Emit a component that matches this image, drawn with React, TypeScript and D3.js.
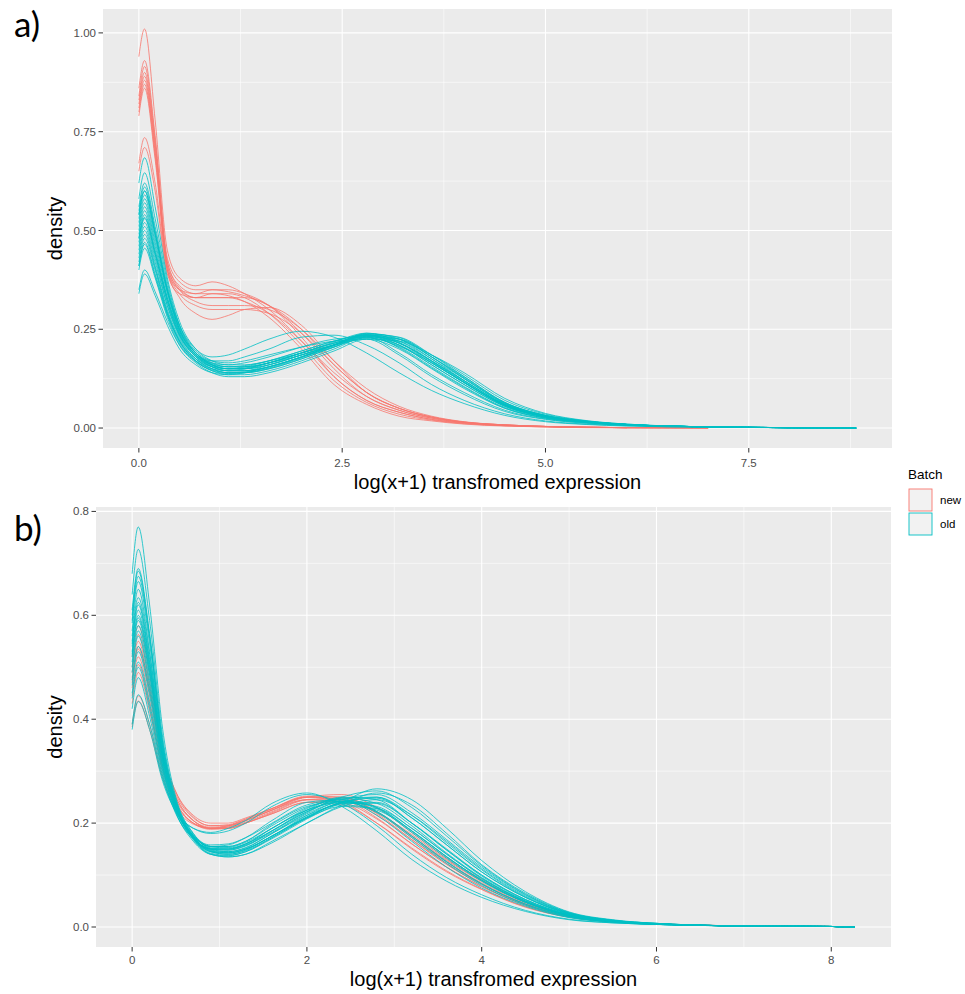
import React from "react";
import * as d3 from "d3";

// ---------- DATA ----------
// Panel a) x grid (log(x+1) transformed expression)
const GRID_A = [0, 0.07, 0.2, 0.35, 0.5, 0.7, 0.9, 1.1, 1.3, 1.6, 2.0, 2.4, 2.8, 3.2, 3.6, 4.0, 4.5, 5.0, 5.5, 6.0, 7.0, 8.0, 8.82];
// density values, batch "new"
const NEW_A = [
  [0.94, 1.01, 0.78, 0.45, 0.38, 0.36, 0.37, 0.36, 0.34, 0.30, 0.22, 0.13, 0.07, 0.04, 0.022, 0.013, 0.007, 0.004, 0.002, 0.001, 0.0005],
  [0.86, 0.93, 0.74, 0.43, 0.37, 0.35, 0.35, 0.345, 0.335, 0.31, 0.24, 0.15, 0.08, 0.045, 0.025, 0.014, 0.007, 0.004, 0.002, 0.001, 0.0005],
  [0.84, 0.915, 0.73, 0.42, 0.36, 0.34, 0.34, 0.335, 0.32, 0.28, 0.20, 0.11, 0.06, 0.03, 0.018, 0.01, 0.005, 0.003, 0.001, 0.0008],
  [0.83, 0.90, 0.72, 0.42, 0.355, 0.33, 0.33, 0.33, 0.32, 0.29, 0.22, 0.14, 0.08, 0.045, 0.025, 0.014, 0.007, 0.004, 0.002, 0.001, 0.0005],
  [0.81, 0.88, 0.70, 0.41, 0.35, 0.32, 0.31, 0.31, 0.31, 0.30, 0.25, 0.17, 0.10, 0.055, 0.03, 0.016, 0.008, 0.004, 0.002, 0.001, 0.0005],
  [0.80, 0.87, 0.69, 0.40, 0.34, 0.31, 0.30, 0.30, 0.30, 0.29, 0.24, 0.16, 0.09, 0.05, 0.028, 0.015, 0.008, 0.004, 0.002, 0.001],
  [0.79, 0.86, 0.68, 0.40, 0.33, 0.29, 0.275, 0.285, 0.30, 0.305, 0.26, 0.17, 0.09, 0.05, 0.027, 0.015, 0.008, 0.004, 0.002, 0.001, 0.0005],
  [0.67, 0.735, 0.62, 0.40, 0.35, 0.34, 0.35, 0.35, 0.34, 0.31, 0.23, 0.13, 0.07, 0.04, 0.022, 0.012, 0.006, 0.003, 0.002, 0.001, 0.0005],
  [0.65, 0.71, 0.60, 0.39, 0.34, 0.33, 0.33, 0.33, 0.33, 0.31, 0.25, 0.16, 0.09, 0.05, 0.028, 0.015, 0.008, 0.004, 0.002, 0.001],
  [0.82, 0.89, 0.71, 0.41, 0.35, 0.33, 0.34, 0.34, 0.33, 0.29, 0.21, 0.12, 0.065, 0.035, 0.02, 0.011, 0.006, 0.003, 0.0015, 0.0008, 0.0003],
];
// density values, batch "old"
const OLD_A = [
  [0.62, 0.684, 0.56, 0.38, 0.27, 0.20, 0.17, 0.16, 0.16, 0.17, 0.19, 0.21, 0.225, 0.20, 0.15, 0.10, 0.05, 0.025, 0.014, 0.008, 0.003, 0.001, 0],
  [0.58, 0.646, 0.53, 0.37, 0.26, 0.19, 0.16, 0.15, 0.15, 0.165, 0.19, 0.215, 0.23, 0.205, 0.155, 0.105, 0.052, 0.026, 0.015, 0.008, 0.003, 0.001, 0],
  [0.56, 0.62, 0.51, 0.36, 0.26, 0.195, 0.17, 0.165, 0.17, 0.185, 0.205, 0.22, 0.225, 0.185, 0.13, 0.085, 0.042, 0.022, 0.012, 0.007, 0.003, 0.001, 0],
  [0.55, 0.61, 0.50, 0.35, 0.25, 0.185, 0.155, 0.145, 0.145, 0.16, 0.185, 0.21, 0.235, 0.215, 0.165, 0.115, 0.058, 0.029, 0.016, 0.009, 0.003, 0.001, 0],
  [0.54, 0.60, 0.49, 0.35, 0.25, 0.19, 0.165, 0.155, 0.155, 0.165, 0.19, 0.215, 0.232, 0.21, 0.16, 0.11, 0.055, 0.027, 0.015, 0.008, 0.003, 0.001, 0],
  [0.51, 0.57, 0.47, 0.34, 0.245, 0.185, 0.16, 0.15, 0.15, 0.16, 0.185, 0.21, 0.24, 0.225, 0.175, 0.12, 0.06, 0.03, 0.016, 0.009, 0.003, 0.001, 0],
  [0.50, 0.56, 0.46, 0.33, 0.24, 0.18, 0.155, 0.145, 0.145, 0.155, 0.18, 0.205, 0.228, 0.21, 0.165, 0.115, 0.058, 0.029, 0.016, 0.009, 0.003, 0.001, 0],
  [0.48, 0.533, 0.44, 0.32, 0.235, 0.18, 0.155, 0.145, 0.145, 0.155, 0.18, 0.21, 0.238, 0.23, 0.185, 0.13, 0.065, 0.032, 0.017, 0.009, 0.003, 0.001, 0],
  [0.46, 0.52, 0.43, 0.31, 0.23, 0.175, 0.15, 0.14, 0.14, 0.15, 0.175, 0.205, 0.235, 0.225, 0.18, 0.125, 0.062, 0.031, 0.017, 0.009, 0.003, 0.001, 0],
  [0.45, 0.51, 0.42, 0.31, 0.235, 0.185, 0.165, 0.16, 0.165, 0.18, 0.205, 0.225, 0.23, 0.19, 0.135, 0.09, 0.045, 0.023, 0.013, 0.007, 0.003, 0.001, 0],
  [0.44, 0.50, 0.41, 0.30, 0.225, 0.175, 0.15, 0.14, 0.14, 0.15, 0.175, 0.205, 0.232, 0.22, 0.175, 0.125, 0.063, 0.031, 0.017, 0.009, 0.003, 0.001, 0],
  [0.42, 0.48, 0.40, 0.29, 0.22, 0.17, 0.145, 0.135, 0.135, 0.145, 0.17, 0.20, 0.23, 0.225, 0.185, 0.135, 0.07, 0.035, 0.018, 0.01, 0.003, 0.001, 0],
  [0.41, 0.47, 0.39, 0.29, 0.22, 0.175, 0.155, 0.15, 0.155, 0.17, 0.195, 0.22, 0.236, 0.21, 0.16, 0.11, 0.055, 0.028, 0.015, 0.008, 0.003, 0.001, 0],
  [0.40, 0.455, 0.38, 0.28, 0.21, 0.165, 0.14, 0.13, 0.13, 0.14, 0.165, 0.195, 0.225, 0.22, 0.185, 0.14, 0.075, 0.037, 0.019, 0.01, 0.003, 0.001, 0],
  [0.35, 0.40, 0.345, 0.27, 0.21, 0.17, 0.15, 0.145, 0.15, 0.165, 0.19, 0.215, 0.235, 0.215, 0.17, 0.12, 0.06, 0.03, 0.016, 0.009, 0.003, 0.001, 0],
  [0.34, 0.39, 0.335, 0.26, 0.20, 0.16, 0.14, 0.135, 0.14, 0.155, 0.18, 0.21, 0.235, 0.225, 0.18, 0.13, 0.065, 0.032, 0.017, 0.009, 0.003, 0.001, 0],
  [0.53, 0.59, 0.49, 0.35, 0.26, 0.20, 0.18, 0.185, 0.20, 0.225, 0.245, 0.23, 0.19, 0.14, 0.095, 0.062, 0.032, 0.016, 0.009, 0.005, 0.002, 0.001, 0],
  [0.49, 0.55, 0.45, 0.33, 0.245, 0.19, 0.17, 0.17, 0.18, 0.20, 0.23, 0.235, 0.21, 0.165, 0.11, 0.07, 0.036, 0.018, 0.01, 0.006, 0.002, 0.001, 0],
  [0.48, 0.54, 0.445, 0.325, 0.24, 0.185, 0.16, 0.155, 0.155, 0.165, 0.185, 0.21, 0.228, 0.207, 0.165, 0.115, 0.058, 0.029, 0.016, 0.009, 0.003, 0.001, 0],
  [0.52, 0.58, 0.48, 0.345, 0.25, 0.19, 0.16, 0.15, 0.15, 0.16, 0.185, 0.212, 0.236, 0.22, 0.17, 0.117, 0.058, 0.029, 0.016, 0.009, 0.003, 0.001, 0],
  [0.43, 0.49, 0.405, 0.295, 0.22, 0.17, 0.145, 0.138, 0.14, 0.152, 0.178, 0.208, 0.238, 0.229, 0.18, 0.127, 0.064, 0.032, 0.017, 0.009, 0.003, 0.001, 0],
  [0.41, 0.465, 0.385, 0.285, 0.215, 0.168, 0.147, 0.14, 0.142, 0.155, 0.18, 0.21, 0.232, 0.215, 0.17, 0.12, 0.06, 0.03, 0.016, 0.009, 0.003, 0.001, 0],
  [0.47, 0.53, 0.44, 0.32, 0.235, 0.182, 0.158, 0.15, 0.152, 0.165, 0.19, 0.218, 0.24, 0.217, 0.168, 0.115, 0.056, 0.028, 0.015, 0.008, 0.003, 0.001, 0],
  [0.54, 0.60, 0.495, 0.35, 0.255, 0.19, 0.163, 0.155, 0.158, 0.17, 0.195, 0.22, 0.235, 0.203, 0.152, 0.103, 0.05, 0.025, 0.014, 0.008, 0.003, 0.001, 0],
];

// Panel b) x grid
const GRID_B = [0, 0.07, 0.2, 0.35, 0.5, 0.7, 0.9, 1.1, 1.3, 1.6, 2.0, 2.4, 2.8, 3.2, 3.6, 4.0, 4.5, 5.0, 5.5, 6.0, 7.0, 8.0, 8.27];
const NEW_B = [
  [0.50, 0.563, 0.47, 0.33, 0.26, 0.215, 0.20, 0.20, 0.21, 0.228, 0.25, 0.245, 0.21, 0.16, 0.115, 0.078, 0.042, 0.02, 0.01, 0.006, 0.002, 0.001, 0],
  [0.49, 0.55, 0.46, 0.325, 0.255, 0.21, 0.195, 0.197, 0.208, 0.228, 0.252, 0.25, 0.218, 0.168, 0.12, 0.082, 0.044, 0.021, 0.011, 0.006, 0.002, 0.001, 0],
  [0.47, 0.535, 0.45, 0.32, 0.25, 0.205, 0.19, 0.19, 0.2, 0.22, 0.245, 0.248, 0.222, 0.175, 0.128, 0.088, 0.047, 0.022, 0.011, 0.006, 0.002, 0.001, 0],
  [0.46, 0.52, 0.435, 0.31, 0.245, 0.205, 0.192, 0.195, 0.205, 0.225, 0.245, 0.24, 0.208, 0.16, 0.115, 0.078, 0.042, 0.02, 0.01, 0.006, 0.002, 0.001, 0],
  [0.445, 0.505, 0.425, 0.305, 0.24, 0.2, 0.188, 0.19, 0.2, 0.218, 0.24, 0.242, 0.22, 0.178, 0.13, 0.09, 0.048, 0.023, 0.011, 0.006, 0.002, 0.001, 0],
  [0.39, 0.445, 0.39, 0.29, 0.235, 0.2, 0.19, 0.192, 0.202, 0.222, 0.245, 0.245, 0.215, 0.168, 0.122, 0.083, 0.044, 0.021, 0.011, 0.006, 0.002, 0.001, 0],
  [0.385, 0.435, 0.38, 0.285, 0.23, 0.198, 0.19, 0.195, 0.207, 0.228, 0.25, 0.24, 0.2, 0.15, 0.106, 0.072, 0.038, 0.019, 0.01, 0.006, 0.002, 0.001, 0],
  [0.52, 0.58, 0.485, 0.335, 0.26, 0.212, 0.195, 0.195, 0.205, 0.225, 0.25, 0.25, 0.222, 0.172, 0.125, 0.085, 0.045, 0.022, 0.011, 0.006, 0.002, 0.001, 0],
  [0.43, 0.49, 0.415, 0.3, 0.24, 0.2, 0.19, 0.193, 0.205, 0.225, 0.25, 0.255, 0.23, 0.182, 0.133, 0.092, 0.049, 0.023, 0.011, 0.006, 0.002, 0.001, 0],
  [0.48, 0.54, 0.455, 0.32, 0.25, 0.205, 0.19, 0.19, 0.2, 0.218, 0.24, 0.235, 0.2, 0.152, 0.108, 0.073, 0.039, 0.019, 0.01, 0.006, 0.002, 0.001, 0],
];
const OLD_B = [
  [0.68, 0.77, 0.62, 0.38, 0.25, 0.18, 0.15, 0.145, 0.152, 0.18, 0.215, 0.235, 0.225, 0.185, 0.135, 0.09, 0.048, 0.022, 0.011, 0.006, 0.002, 0.001, 0],
  [0.64, 0.727, 0.59, 0.365, 0.245, 0.175, 0.145, 0.14, 0.148, 0.175, 0.21, 0.232, 0.228, 0.19, 0.14, 0.094, 0.05, 0.023, 0.011, 0.006, 0.002, 0.001, 0],
  [0.61, 0.69, 0.565, 0.355, 0.24, 0.172, 0.142, 0.138, 0.145, 0.172, 0.21, 0.238, 0.238, 0.2, 0.15, 0.1, 0.053, 0.024, 0.012, 0.006, 0.002, 0.001, 0],
  [0.60, 0.685, 0.56, 0.355, 0.245, 0.18, 0.155, 0.152, 0.16, 0.19, 0.225, 0.24, 0.222, 0.175, 0.125, 0.083, 0.044, 0.02, 0.01, 0.005, 0.002, 0.001, 0],
  [0.59, 0.675, 0.555, 0.35, 0.24, 0.175, 0.148, 0.145, 0.153, 0.18, 0.218, 0.24, 0.232, 0.19, 0.14, 0.093, 0.05, 0.022, 0.011, 0.006, 0.002, 0.001, 0],
  [0.585, 0.665, 0.545, 0.345, 0.235, 0.17, 0.14, 0.135, 0.14, 0.165, 0.2, 0.232, 0.245, 0.215, 0.165, 0.112, 0.06, 0.026, 0.012, 0.006, 0.002, 0.001, 0],
  [0.56, 0.634, 0.525, 0.34, 0.24, 0.178, 0.152, 0.15, 0.158, 0.185, 0.222, 0.242, 0.23, 0.185, 0.135, 0.09, 0.048, 0.022, 0.011, 0.006, 0.002, 0.001, 0],
  [0.55, 0.625, 0.515, 0.335, 0.235, 0.172, 0.145, 0.14, 0.147, 0.172, 0.21, 0.24, 0.248, 0.21, 0.158, 0.106, 0.057, 0.025, 0.012, 0.006, 0.002, 0.001, 0],
  [0.54, 0.61, 0.505, 0.33, 0.235, 0.176, 0.155, 0.155, 0.165, 0.198, 0.232, 0.242, 0.22, 0.172, 0.122, 0.08, 0.042, 0.019, 0.01, 0.005, 0.002, 0.001, 0],
  [0.53, 0.60, 0.5, 0.328, 0.232, 0.17, 0.145, 0.142, 0.15, 0.175, 0.215, 0.245, 0.255, 0.22, 0.168, 0.115, 0.062, 0.027, 0.013, 0.007, 0.002, 0.001, 0],
  [0.525, 0.595, 0.495, 0.325, 0.23, 0.168, 0.14, 0.135, 0.14, 0.162, 0.2, 0.235, 0.258, 0.235, 0.18, 0.12, 0.065, 0.028, 0.013, 0.007, 0.002, 0.001, 0],
  [0.52, 0.59, 0.49, 0.322, 0.232, 0.175, 0.155, 0.158, 0.172, 0.205, 0.24, 0.245, 0.215, 0.165, 0.115, 0.075, 0.04, 0.018, 0.009, 0.005, 0.002, 0.001, 0],
  [0.51, 0.58, 0.485, 0.32, 0.23, 0.173, 0.15, 0.148, 0.156, 0.185, 0.225, 0.25, 0.245, 0.2, 0.148, 0.1, 0.053, 0.024, 0.012, 0.006, 0.002, 0.001, 0],
  [0.50, 0.57, 0.475, 0.315, 0.228, 0.172, 0.15, 0.15, 0.16, 0.19, 0.225, 0.242, 0.228, 0.182, 0.132, 0.088, 0.047, 0.021, 0.01, 0.005, 0.002, 0.001, 0],
  [0.475, 0.54, 0.455, 0.31, 0.228, 0.175, 0.155, 0.155, 0.165, 0.195, 0.23, 0.245, 0.23, 0.185, 0.135, 0.09, 0.048, 0.022, 0.011, 0.006, 0.002, 0.001, 0],
  [0.465, 0.53, 0.445, 0.305, 0.225, 0.172, 0.15, 0.148, 0.157, 0.182, 0.22, 0.248, 0.25, 0.21, 0.158, 0.106, 0.057, 0.025, 0.012, 0.006, 0.002, 0.001, 0],
  [0.45, 0.51, 0.43, 0.3, 0.225, 0.175, 0.158, 0.16, 0.172, 0.2, 0.235, 0.245, 0.222, 0.175, 0.126, 0.083, 0.044, 0.02, 0.01, 0.005, 0.002, 0.001, 0],
  [0.44, 0.50, 0.42, 0.295, 0.22, 0.17, 0.15, 0.15, 0.16, 0.185, 0.222, 0.25, 0.262, 0.23, 0.175, 0.118, 0.063, 0.027, 0.013, 0.007, 0.002, 0.001, 0],
  [0.39, 0.447, 0.39, 0.285, 0.225, 0.19, 0.18, 0.185, 0.2, 0.232, 0.255, 0.238, 0.195, 0.14, 0.095, 0.062, 0.032, 0.015, 0.008, 0.005, 0.002, 0.001, 0],
  [0.38, 0.434, 0.38, 0.28, 0.222, 0.19, 0.182, 0.19, 0.205, 0.238, 0.258, 0.232, 0.185, 0.13, 0.088, 0.057, 0.03, 0.014, 0.008, 0.005, 0.002, 0.001, 0],
  [0.545, 0.62, 0.51, 0.332, 0.235, 0.172, 0.146, 0.143, 0.15, 0.175, 0.212, 0.24, 0.25, 0.215, 0.162, 0.11, 0.058, 0.026, 0.012, 0.006, 0.002, 0.001, 0],
  [0.49, 0.56, 0.465, 0.31, 0.222, 0.165, 0.14, 0.137, 0.145, 0.17, 0.208, 0.24, 0.266, 0.245, 0.19, 0.128, 0.068, 0.029, 0.014, 0.007, 0.002, 0.001, 0],
  [0.42, 0.48, 0.405, 0.29, 0.218, 0.17, 0.152, 0.153, 0.163, 0.19, 0.228, 0.248, 0.238, 0.195, 0.142, 0.095, 0.05, 0.022, 0.011, 0.006, 0.002, 0.001, 0],
  [0.57, 0.65, 0.53, 0.342, 0.238, 0.174, 0.147, 0.143, 0.15, 0.175, 0.212, 0.238, 0.24, 0.2, 0.148, 0.098, 0.052, 0.023, 0.011, 0.006, 0.002, 0.001, 0],
];

// Tick values and labels
const X_TICKS_A = [0, 2.5, 5, 7.5];
const X_LABELS_A = ["0.0", "2.5", "5.0", "7.5"];
const Y_TICKS_A = [0, 0.25, 0.5, 0.75, 1.0];
const Y_LABELS_A = ["0.00", "0.25", "0.50", "0.75", "1.00"];
const X_TICKS_B = [0, 2, 4, 6, 8];
const X_LABELS_B = ["0", "2", "4", "6", "8"];
const Y_TICKS_B = [0, 0.2, 0.4, 0.6, 0.8];
const Y_LABELS_B = ["0.0", "0.2", "0.4", "0.6", "0.8"];

const BATCHES = ["new", "old"];
const COLORS = ["#F8766D", "#00BFC4"];

const X_TITLE = "log(x+1) transfromed expression";
const Y_TITLE = "density";

const FONT = "'Liberation Sans', Arial, sans-serif";

function minorBreaks(major: number[], lo: number, hi: number) {
  const step = major[1] - major[0];
  const out: number[] = [];
  for (let i = -1; i < major.length; i++) {
    const v = (i < 0 ? major[0] - step : major[i]) + step / 2;
    if (v > lo && v < hi) out.push(v);
  }
  return out;
}

function Panel(props: any) {
  const { grid, reds, cyans, left, right, top, bottom, xTicks, xLabels, yTicks, yLabels, tag, tagY, titleY, tickGap } = props;
  const xMax = grid[grid.length - 1];
  const yMax = d3.max([...reds, ...cyans].flat() as number[]) as number;
  const xPad = xMax * 0.05;
  const yPad = yMax * 0.05;
  const x = d3.scaleLinear().domain([-xPad, xMax + xPad]).range([left, right]);
  const y = d3.scaleLinear().domain([-yPad, yMax + yPad]).range([bottom, top]);
  const line = d3
    .line<[number, number]>()
    .x((d) => x(d[0]))
    .y((d) => y(d[1]))
    .curve(d3.curveMonotoneX);
  const toPts = (row: number[]) => row.map((v, i) => [grid[i], v] as [number, number]);
  const xMinor = minorBreaks(xTicks, -xPad, xMax + xPad);
  const yMinor = minorBreaks(yTicks, -yPad, yMax + yPad);
  const midX = (left + right) / 2;
  const midY = (top + bottom) / 2;
  return (
    <g>
      <text x={14} y={tagY} fontFamily="Lato, 'Open Sans', sans-serif" fontSize={35} fill="#000">
        {tag}
      </text>
      <rect x={left} y={top} width={right - left} height={bottom - top} fill="#EBEBEB" />
      {yMinor.map((v) => (
        <line key={"ym" + v} x1={left} x2={right} y1={y(v)} y2={y(v)} stroke="#fff" strokeWidth={0.55} />
      ))}
      {xMinor.map((v) => (
        <line key={"xm" + v} x1={x(v)} x2={x(v)} y1={top} y2={bottom} stroke="#fff" strokeWidth={0.55} />
      ))}
      {yTicks.map((v: number) => (
        <line key={"yM" + v} x1={left} x2={right} y1={y(v)} y2={y(v)} stroke="#fff" strokeWidth={1.1} />
      ))}
      {xTicks.map((v: number) => (
        <line key={"xM" + v} x1={x(v)} x2={x(v)} y1={top} y2={bottom} stroke="#fff" strokeWidth={1.1} />
      ))}
      {reds.map((row: number[], i: number) => (
        <path key={"r" + i} d={line(toPts(row)) as string} fill="none" stroke={COLORS[0]} strokeWidth={0.8} />
      ))}
      {cyans.map((row: number[], i: number) => (
        <path key={"c" + i} d={line(toPts(row)) as string} fill="none" stroke={COLORS[1]} strokeWidth={0.8} />
      ))}
      {yTicks.map((v: number, i: number) => (
        <g key={"yt" + v}>
          <line x1={left - 4.5} x2={left} y1={y(v)} y2={y(v)} stroke="#333" strokeWidth={1} />
          <text x={left - 7} y={y(v)} dy="0.35em" textAnchor="end" fontFamily={FONT} fontSize={11.5} fill="#4D4D4D">
            {yLabels[i]}
          </text>
        </g>
      ))}
      {xTicks.map((v: number, i: number) => (
        <g key={"xt" + v}>
          <line x1={x(v)} x2={x(v)} y1={bottom} y2={bottom + 4.5} stroke="#333" strokeWidth={1} />
          <text x={x(v)} y={bottom + tickGap} textAnchor="middle" fontFamily={FONT} fontSize={11.5} fill="#4D4D4D">
            {xLabels[i]}
          </text>
        </g>
      ))}
      <text x={midX} y={titleY} textAnchor="middle" fontFamily={FONT} fontSize={20} fill="#000">
        {X_TITLE}
      </text>
      <text
        transform={`translate(62,${midY}) rotate(-90)`}
        textAnchor="middle"
        fontFamily={FONT}
        fontSize={20}
        fill="#000"
      >
        {Y_TITLE}
      </text>
    </g>
  );
}

export default function App() {
  return (
    <svg
      width={965}
      height={994}
      style={{ display: "block", background: "#fff", position: "absolute", left: 0, top: 0 }}
    >
      <Panel
        grid={GRID_A}
        reds={NEW_A}
        cyans={OLD_A}
        left={103}
        right={892}
        top={9}
        bottom={448}
        xTicks={X_TICKS_A}
        xLabels={X_LABELS_A}
        yTicks={Y_TICKS_A}
        yLabels={Y_LABELS_A}
        tag="a)"
        tagY={37}
        titleY={489}
        tickGap={19}
      />
      <Panel
        grid={GRID_B}
        reds={NEW_B}
        cyans={OLD_B}
        left={96}
        right={891}
        top={507}
        bottom={947}
        xTicks={X_TICKS_B}
        xLabels={X_LABELS_B}
        yTicks={Y_TICKS_B}
        yLabels={Y_LABELS_B}
        tag="b)"
        tagY={541}
        titleY={986}
        tickGap={17}
      />
      <g fontFamily={FONT}>
        <text x={908} y={479} fontSize={13.5} fill="#000">
          Batch
        </text>
        {BATCHES.map((b, i) => (
          <g key={b}>
            <rect x={909} y={489 + i * 24} width={23} height={22} fill="#F2F2F2" stroke={COLORS[i]} strokeWidth={0.9} />
            <text x={940} y={500 + i * 24} dy="0.35em" fontSize={11.5} fill="#000">
              {b}
            </text>
          </g>
        ))}
      </g>
    </svg>
  );
}
